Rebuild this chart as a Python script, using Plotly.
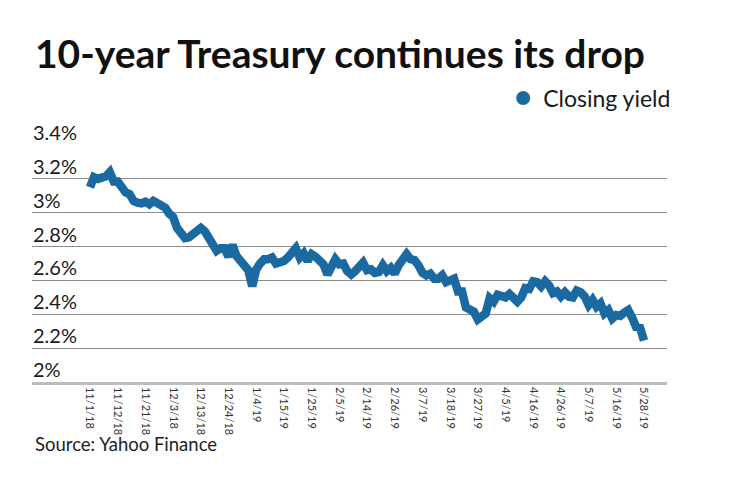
import plotly.graph_objects as go

dates = ["11/1/18","11/2/18","11/5/18","11/6/18","11/7/18","11/8/18","11/9/18","11/12/18","11/13/18","11/14/18",
"11/15/18","11/16/18","11/19/18","11/20/18","11/21/18","11/23/18","11/26/18","11/27/18","11/28/18","11/29/18",
"11/30/18","12/3/18","12/4/18","12/6/18","12/7/18","12/10/18","12/11/18","12/12/18","12/13/18","12/14/18",
"12/17/18","12/18/18","12/19/18","12/20/18","12/21/18","12/24/18","12/26/18","12/27/18","12/28/18","12/31/18",
"1/2/19","1/3/19","1/4/19","1/7/19","1/8/19","1/9/19","1/10/19","1/11/19","1/14/19","1/15/19",
"1/16/19","1/17/19","1/18/19","1/22/19","1/23/19","1/24/19","1/25/19","1/28/19","1/29/19","1/30/19",
"1/31/19","2/1/19","2/4/19","2/5/19","2/6/19","2/7/19","2/8/19","2/11/19","2/12/19","2/13/19",
"2/14/19","2/15/19","2/19/19","2/20/19","2/21/19","2/22/19","2/25/19","2/26/19","2/27/19","2/28/19",
"3/1/19","3/4/19","3/5/19","3/6/19","3/7/19","3/8/19","3/11/19","3/12/19","3/13/19","3/14/19",
"3/15/19","3/18/19","3/19/19","3/20/19","3/21/19","3/22/19","3/25/19","3/26/19","3/27/19","3/28/19",
"3/29/19","4/1/19","4/2/19","4/3/19","4/4/19","4/5/19","4/8/19","4/9/19","4/10/19","4/11/19",
"4/12/19","4/15/19","4/16/19","4/17/19","4/18/19","4/22/19","4/23/19","4/24/19","4/25/19","4/26/19",
"4/29/19","4/30/19","5/1/19","5/2/19","5/3/19","5/6/19","5/7/19","5/8/19","5/9/19","5/10/19",
"5/13/19","5/14/19","5/15/19","5/16/19","5/17/19","5/20/19","5/21/19","5/22/19","5/23/19","5/24/19",
"5/28/19"]

closing_yield = [3.15,3.21,3.20,3.21,3.215,3.24,3.185,3.185,3.14,3.12,
3.11,3.07,3.06,3.055,3.065,3.05,3.07,3.055,3.04,3.03,
2.995,2.975,2.91,2.87,2.85,2.855,2.875,2.905,2.91,2.89,
2.855,2.82,2.775,2.79,2.79,2.74,2.81,2.745,2.72,2.685,
2.66,2.565,2.665,2.70,2.725,2.725,2.735,2.70,2.705,2.715,
2.735,2.755,2.79,2.735,2.76,2.715,2.755,2.74,2.715,2.695,
2.635,2.69,2.725,2.695,2.70,2.655,2.635,2.655,2.685,2.705,
2.66,2.665,2.645,2.65,2.69,2.655,2.675,2.64,2.69,2.715,
2.755,2.725,2.72,2.69,2.645,2.63,2.64,2.61,2.61,2.63,
2.59,2.60,2.61,2.535,2.535,2.44,2.42,2.415,2.37,2.39,
2.405,2.495,2.475,2.515,2.51,2.50,2.52,2.50,2.475,2.50,
2.555,2.55,2.595,2.59,2.565,2.595,2.57,2.525,2.535,2.505,
2.53,2.505,2.50,2.54,2.53,2.505,2.455,2.485,2.445,2.465,
2.405,2.425,2.375,2.395,2.39,2.41,2.425,2.38,2.325,2.32,
2.245]

tick_labels = ["11/1/18","11/12/18","11/21/18","12/3/18","12/13/18","12/24/18","1/4/19","1/15/19",
"1/25/19","2/5/19","2/14/19","2/26/19","3/7/19","3/18/19","3/27/19","4/5/19","4/16/19","4/26/19",
"5/7/19","5/16/19","5/28/19"]

y_ticks = [2.0, 2.2, 2.4, 2.6, 2.8, 3.0, 3.2, 3.4]
y_tick_text = ["2%", "2.2%", "2.4%", "2.6%", "2.8%", "3%", "3.2%", "3.4%"]

BLUE = "#1b69a1"
FONT = "Lato"

fig = go.Figure()
fig.add_trace(go.Scatter(
    x=dates, y=closing_yield, mode="lines",
    line=dict(color=BLUE, width=8.5),
    showlegend=False, hoverinfo="x+y"))
fig.add_trace(go.Scatter(
    x=[None], y=[None], mode="markers",
    marker=dict(color=BLUE, size=14),
    name="Closing yield"))

# y tick labels sit above their gridlines, left-aligned inside the plot
annotations = [
    dict(text=t, xref="paper", yref="y", x=0, y=v,
         xanchor="left", yanchor="bottom", showarrow=False, yshift=-1, xshift=-1,
         font=dict(size=20, color="#1a1a1a", family=FONT))
    for v, t in zip(y_ticks, y_tick_text)
]
annotations += [
    dict(text="<b>10-year Treasury continues its drop</b>",
         xref="paper", yref="paper", x=(33-32)/635, y=(382-53)/237,
         xanchor="left", yanchor="middle", showarrow=False,
         font=dict(size=39, color="#111111", family=FONT)),
    dict(text="Source: Yahoo Finance",
         xref="paper", yref="paper", x=(33-32)/635, y=(382-444)/237,
         xanchor="left", yanchor="middle", showarrow=False,
         font=dict(size=18.5, color="#222222", family=FONT)),
]

fig.update_layout(
    width=740, height=482,
    margin=dict(l=24, r=81, t=137, b=108),
    paper_bgcolor="white", plot_bgcolor="white",
    font=dict(family=FONT, color="#1a1a1a"),
    showlegend=True,
    legend=dict(x=0.742, y=1.198, xanchor="left", yanchor="middle",
                font=dict(size=23, color="#1a1a1a", family=FONT),
                bgcolor="rgba(0,0,0,0)"),
    xaxis=dict(type="category", range=[-14.66, 145.81],
               tickmode="array", tickvals=tick_labels, ticktext=tick_labels,
               tickangle=90, tickfont=dict(size=11, color="#333333"),
               showgrid=False, zeroline=False,
               showline=True, linecolor="#bdbdbd", linewidth=2.5,
               ticks=""),
    yaxis=dict(range=[2.0, 3.4], tickmode="array", tickvals=y_ticks,
               showticklabels=False,
               showgrid=True, gridcolor="#8c8c8c", gridwidth=1.2,
               zeroline=False, showline=False, ticks=""),
    annotations=annotations,
)

fig.write_html("out.html")
